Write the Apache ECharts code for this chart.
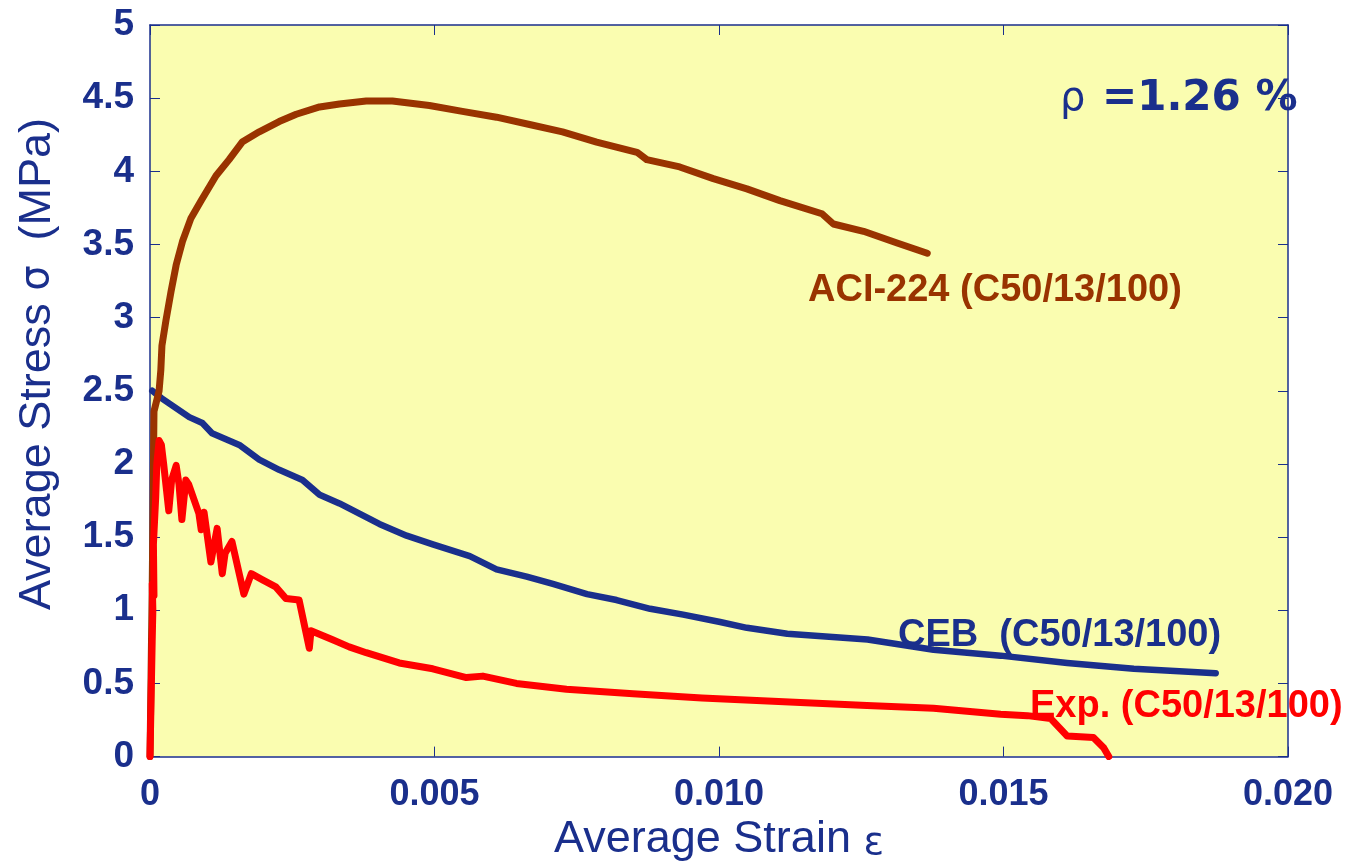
<!DOCTYPE html>
<html>
<head>
<meta charset="utf-8">
<title>Average stress vs average strain</title>
<script src="https://cdn.jsdelivr.net/npm/echarts@6/dist/echarts.min.js"></script>
<style>
  html, body { margin: 0; padding: 0; background: #fff; }
  #main { width: 1357px; height: 868px; }
</style>
</head>
<body>
<div id="main"></div>
<script>
// ACI-224 (C50/13/100) model curve
var aciStrain = [0, 0.00004, 0.00007, 0.00016, 0.00019, 0.00021, 0.00028, 0.00037, 0.00046, 0.00057,
    0.00072, 0.0009, 0.00116, 0.00139, 0.00162, 0.00192, 0.00227, 0.00257, 0.00298, 0.00333,
    0.0038, 0.00426, 0.00491, 0.00549, 0.00609, 0.00667, 0.00725, 0.00785, 0.00856, 0.00873,
    0.00931, 0.0099, 0.01049, 0.01107, 0.01181, 0.01201, 0.01254, 0.01313, 0.01366];
var aciStress = [0, 1.2, 2.36, 2.50, 2.64, 2.81, 2.98, 3.18, 3.36, 3.52,
    3.68, 3.80, 3.97, 4.08, 4.20, 4.27, 4.34, 4.39, 4.44, 4.46,
    4.48, 4.48, 4.45, 4.41, 4.37, 4.32, 4.27, 4.20, 4.13, 4.08,
    4.03, 3.95, 3.88, 3.80, 3.71, 3.64, 3.59, 3.51, 3.44];

// CEB (C50/13/100) model curve
var cebStrain = [0.00004, 0.0002, 0.00069, 0.00092, 0.00109, 0.00157, 0.00192, 0.00227, 0.00268, 0.00298,
    0.00333, 0.00368, 0.00403, 0.00451, 0.00497, 0.00562, 0.00609, 0.00662, 0.00708, 0.00768,
    0.0082, 0.00879, 0.00937, 0.01002, 0.01049, 0.0112, 0.01261, 0.01377, 0.01495, 0.01612,
    0.01729, 0.01873];
var cebStress = [2.50, 2.45, 2.32, 2.28, 2.21, 2.13, 2.03, 1.96, 1.89, 1.79,
    1.73, 1.66, 1.59, 1.51, 1.45, 1.37, 1.28, 1.23, 1.18, 1.11,
    1.07, 1.01, 0.97, 0.92, 0.88, 0.84, 0.80, 0.73, 0.69, 0.64,
    0.60, 0.57];

// Exp. (C50/13/100) measured curve
var expStrain = [0, 0.00004, 0.00005, 0.00004, 0.00007, 0.00006, 0.0001, 0.00012, 0.00016, 0.0002,
    0.00024, 0.00033, 0.00038, 0.00046, 0.00051, 0.00056, 0.00063, 0.00068, 0.00086, 0.0009,
    0.00095, 0.00107, 0.00118, 0.00127, 0.00132, 0.00144, 0.00165, 0.00178, 0.00197, 0.00221,
    0.00239, 0.00262, 0.0028, 0.00283, 0.0032, 0.0035, 0.0038, 0.00438, 0.00497, 0.00556,
    0.00585, 0.00644, 0.00732, 0.00849, 0.0097, 0.01143, 0.0126, 0.01377, 0.01495, 0.01542,
    0.01583, 0.01612, 0.01658, 0.01676, 0.01685];
var expStress = [0, 0.82, 1.0, 1.18, 1.1, 1.45, 1.77, 2.0, 2.16, 2.13,
    2.0, 1.68, 1.89, 1.99, 1.86, 1.62, 1.89, 1.86, 1.66, 1.55,
    1.67, 1.33, 1.56, 1.25, 1.39, 1.47, 1.11, 1.25, 1.21, 1.16,
    1.08, 1.07, 0.74, 0.86, 0.80, 0.75, 0.71, 0.64, 0.60, 0.54,
    0.55, 0.50, 0.46, 0.43, 0.40, 0.37, 0.35, 0.33, 0.29, 0.28,
    0.26, 0.14, 0.13, 0.06, 0];

var xTicks = ['0', '0.005', '0.010', '0.015', '0.020'];

var navy = '#1a2f8c';
var axisFont = 'Liberation Sans, Arial, sans-serif';
var labelFont = 'bold 38px Liberation Sans, Arial, sans-serif';

function pairs(xs, ys) {
    var out = [];
    for (var i = 0; i < xs.length; i++) {
        out.push([xs[i], ys[i]]);
    }
    return out;
}

var myChart = echarts.init(document.getElementById('main'));

var frameLine = { show: true, onZero: false, lineStyle: { color: navy, width: 1.5 } };
var innerTick = { show: true, inside: true, length: 10, lineStyle: { color: navy, width: 1 } };

var option = {
    backgroundColor: '#ffffff',
    animation: false,
    grid: {
        left: 150, top: 25, width: 1138, height: 736,
        show: true, backgroundColor: '#fafdb0', borderWidth: 0
    },
    xAxis: [{
        type: 'value', min: 0, max: 0.02, interval: 0.005, position: 'bottom',
        axisLine: frameLine, axisTick: innerTick, splitLine: { show: false },
        axisLabel: {
            color: navy, fontSize: 36, fontWeight: 'bold', fontFamily: axisFont, margin: 20,
            formatter: function (v) { return xTicks[Math.round(v / 0.005)]; }
        },
        name: 'Average Strain {e|ε}', nameLocation: 'middle', nameGap: 58,
        nameTextStyle: {
            color: navy, fontSize: 45, fontFamily: axisFont,
            rich: { e: { color: navy, fontSize: 38, fontFamily: 'DejaVu Sans, sans-serif', padding: [8, 0, 0, 0] } }
        }
    }, {
        type: 'value', min: 0, max: 0.02, interval: 0.005, position: 'top',
        axisLine: frameLine, axisTick: innerTick, splitLine: { show: false },
        axisLabel: { show: false }
    }],
    yAxis: [{
        type: 'value', min: 0, max: 5, interval: 0.5, position: 'left',
        axisLine: frameLine, axisTick: innerTick, splitLine: { show: false },
        axisLabel: { color: navy, fontSize: 37, fontWeight: 'bold', fontFamily: axisFont, margin: 16 }
    }, {
        type: 'value', min: 0, max: 5, interval: 0.5, position: 'right',
        axisLine: frameLine, axisTick: innerTick, splitLine: { show: false },
        axisLabel: { show: false }
    }],
    series: [{
        name: 'CEB (C50/13/100)', type: 'line', showSymbol: false,
        data: pairs(cebStrain, cebStress),
        lineStyle: { color: navy, width: 6.5, cap: 'round', join: 'round' }
    }, {
        name: 'ACI-224 (C50/13/100)', type: 'line', showSymbol: false,
        data: pairs(aciStrain, aciStress),
        lineStyle: { color: '#993300', width: 7, cap: 'round', join: 'round' }
    }, {
        name: 'Exp. (C50/13/100)', type: 'line', showSymbol: false,
        data: pairs(expStrain, expStress),
        lineStyle: { color: '#ff0000', width: 7, cap: 'round', join: 'round' }
    }],
    graphic: [{
        // y axis title, placed a little above the axis middle as in the original
        type: 'text', x: 38, y: 364, rotation: Math.PI / 2,
        style: {
            text: 'Average Stress {s|σ}  (MPa)', align: 'center', verticalAlign: 'middle',
            fill: navy, font: '45px Liberation Sans, Arial, sans-serif',
            rich: { s: { fill: navy, font: '40px DejaVu Sans, sans-serif' } }
        }
    }, {
        type: 'text', left: 808, top: 272,
        style: { text: 'ACI-224 (C50/13/100)', fill: '#993300', font: labelFont }
    }, {
        type: 'text', left: 898, top: 617,
        style: { text: 'CEB  (C50/13/100)', fill: navy, font: labelFont }
    }, {
        type: 'text', left: 1030, top: 688,
        style: { text: 'Exp. (C50/13/100)', fill: '#ff0000', font: labelFont }
    }, {
        type: 'text', left: 1060, top: 80,
        style: { text: 'ρ', fill: navy, font: '40px DejaVu Sans, sans-serif' }
    }, {
        type: 'text', left: 1102, top: 78,
        style: { text: '=1.26 %', fill: navy, font: 'bold 42px DejaVu Sans, sans-serif' }
    }]
};

myChart.setOption(option);
</script>
</body>
</html>
